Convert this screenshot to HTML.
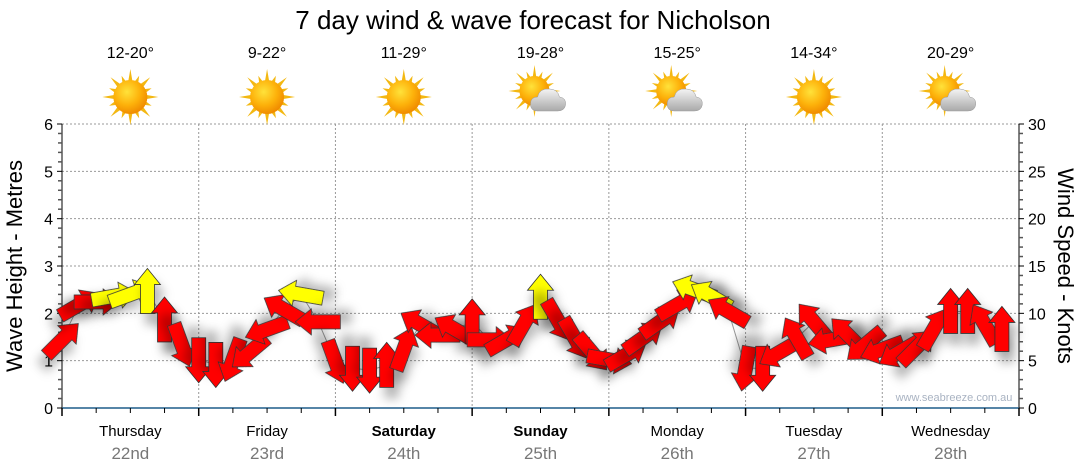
<!DOCTYPE html>
<html><head><meta charset="utf-8">
<style>
html,body{margin:0;padding:0;background:#fff;}
svg{display:block;font-family:"Liberation Sans","DejaVu Sans",sans-serif;}
</style></head>
<body>
<svg id="chart" width="1080" height="475" viewBox="0 0 1080 475">
<defs>
<filter id="sh" x="-60%" y="-60%" width="220%" height="220%"><feDropShadow dx="5" dy="11" stdDeviation="5" flood-color="#000" flood-opacity="0.28"/></filter>
<radialGradient id="sunG" cx="40%" cy="35%" r="65%"><stop offset="0" stop-color="#ffe23a"/><stop offset="0.6" stop-color="#fdb10a"/><stop offset="1" stop-color="#f08c00"/></radialGradient>
<linearGradient id="cloudG" x1="0" y1="0" x2="0" y2="1"><stop offset="0" stop-color="#f4f4f4"/><stop offset="1" stop-color="#a9a9a9"/></linearGradient>
</defs>
<text x="533" y="29" font-size="26" text-anchor="middle" fill="#000">7 day wind &amp; wave forecast for Nicholson</text>
<g id="grid"></g>
<g id="axes"></g>
<g id="header"></g>
<text x="954" y="401" font-size="11" fill="#a9b3c2" text-anchor="middle">www.seabreeze.com.au</text>
<g id="marks"></g>
<text transform="translate(22,266) rotate(-90)" font-size="22" text-anchor="middle">Wave Height - Metres</text>
<text transform="translate(1058,266) rotate(90)" font-size="22" text-anchor="middle">Wind Speed - Knots</text>
</svg>
<script>
const days = ["Thursday","Friday","Saturday","Sunday","Monday","Tuesday","Wednesday"];
const dates = ["22nd","23rd","24th","25th","26th","27th","28th"];
const temps = ["12-20°","9-22°","11-29°","19-28°","15-25°","14-34°","20-29°"];
const cloudy = [false,false,false,true,true,false,true];
const boldDays = [false,false,true,true,false,false,false];
const waveTicks = [0,1,2,3,4,5,6];
const windTicks = [0,5,10,15,20,25,30];
// 3-hourly wind speed (knots) from Thu 00:00
const windSpeed = [7.2,10.9,11.2,11.8,12,12.3,9.3,6.7,
 5.1,4.6,5.1,5.9,8.3,10.4,12,9.1,
 4.9,4.2,4,4.5,6.2,8.8,7.7,8.3,
 9.1,7.2,7.2,8.8,11.7,9.3,7.4,5.9,
 5.1,5.6,7.4,9.1,10.9,12.5,11.8,10.2,
 4.2,4.2,5.9,7.4,9.1,7.2,7.7,6.7,
 6.2,5.9,6.4,8.3,10.2,10.2,8.8,8.3];
// direction the arrow points, degrees clockwise from up
const windDir = [45,60,90,80,70,0,0,160,
 180,180,200,230,250,300,280,270,
 160,180,180,0,20,300,270,300,
 0,90,60,30,0,150,150,140,
 100,60,55,55,60,290,300,300,
 190,180,240,330,320,260,315,230,
 250,240,45,30,0,0,330,0];

const NS="http://www.w3.org/2000/svg";
const X0=62, X1=1019, Y0=408, Y1=124, HOURS=168;
const xH = h => X0 + (X1-X0)*h/HOURS;
const yM = m => Y0 - (Y0-Y1)*m/6;
const yK = k => Y0 - (Y0-Y1)*k/30;
function el(tag, attrs, parent){const e=document.createElementNS(NS,tag);for(const k in attrs)e.setAttribute(k,attrs[k]);parent.appendChild(e);return e;}
const grid=document.getElementById('grid'), axes=document.getElementById('axes'), header=document.getElementById('header'), marks=document.getElementById('marks');

waveTicks.forEach(m=>{ if(m>0){ const g=el('line',{x1:X0,x2:X1,y1:yM(m),y2:yM(m),stroke:'#999','stroke-width':1,'stroke-dasharray':'2,2'},grid);

}});
for(let d=1; d<7; d++){ const g=el('line',{x1:xH(d*24),x2:xH(d*24),y1:Y1,y2:Y0,stroke:'#999','stroke-width':1,'stroke-dasharray':'2,2'},grid);

}

el('line',{x1:X0,x2:X0,y1:Y1,y2:Y0+1,stroke:'#000','stroke-width':1},axes);
el('line',{x1:X1,x2:X1,y1:Y1,y2:Y0+1,stroke:'#000','stroke-width':1},axes);
const xb=el('line',{x1:X0,x2:X1,y1:Y0,y2:Y0,stroke:'#1f5d8a','stroke-width':1.5},axes);


for(let i=0;i<=30;i++){ const m=i*0.2; const y=yM(m); const major=(i%5===0);
 el('line',{x1:X0-(major?5:4),x2:X0,y1:y,y2:y,stroke:major?'#000':'#555','stroke-width':major?1:1.5},axes);
 el('line',{x1:X1,x2:X1+(major?5:4),y1:y,y2:y,stroke:major?'#000':'#555','stroke-width':major?1:1.5},axes);}
waveTicks.forEach(m=>{const t=el('text',{x:X0-9,y:yM(m)+6,'font-size':16,'text-anchor':'end',fill:'#000'},axes);t.textContent=m;

});
windTicks.forEach(k=>{const t=el('text',{x:X1+9,y:yK(k)+6,'font-size':16,'text-anchor':'start',fill:'#000'},axes);t.textContent=k;

});
for(let h=0;h<=HOURS;h+=6){ const major=(h%24===0);
 el('line',{x1:xH(h),x2:xH(h),y1:Y0,y2:Y0+(major?8:5),stroke:'#000','stroke-width':major?1.5:1},axes);}
days.forEach((d,i)=>{const cx=xH(i*24+12);
 const t=el('text',{x:cx,y:436,'font-size':15,'text-anchor':'middle',fill:'#000','font-weight':boldDays[i]?'bold':'normal'},axes);t.textContent=d;
 
 
 const t2=el('text',{x:cx,y:459,'font-size':17,'text-anchor':'middle',fill:'#777'},axes);t2.textContent=dates[i];
 
 
 const t3=el('text',{x:cx,y:58,'font-size':16,'text-anchor':'middle',fill:'#000'},header);t3.textContent=temps[i];
 
 
 const g=el('g',{transform:`translate(${cx},97)`},header);
 
 
 const sx=cloudy[i]?-6:0, sy=cloudy[i]?-6:0, r=cloudy[i]?15:17;
 for(let a=0;a<16;a++){const ang=a*Math.PI/8; const L=(a%2===0)?(r+11):(r+6);
  const p1=[sx+Math.cos(ang-0.15)*(r-2),sy+Math.sin(ang-0.15)*(r-2)], p2=[sx+Math.cos(ang)*L,sy+Math.sin(ang)*L], p3=[sx+Math.cos(ang+0.15)*(r-2),sy+Math.sin(ang+0.15)*(r-2)];
  el('polygon',{points:[p1,p2,p3].map(p=>p.join(',')).join(' '),fill:'#f3b812'},g);}
 el('circle',{cx:sx,cy:sy,r:r,fill:'url(#sunG)'},g);
 if(cloudy[i]){ el('path',{d:'M-3,14 Q-10,14 -10,7 Q-10,0 -3,0 Q-1,-9 9,-8 Q17,-8 19,0 Q26,1 25,8 Q24,14 17,14 Z',fill:'url(#cloudG)',stroke:'#9a9a9a','stroke-width':0.5},g);}
});

const pts=windSpeed.map((k,i)=>[xH(i*3),yK(k)]);
const pl=el('polyline',{points:pts.map(p=>p.join(',')).join(' '),fill:'none',stroke:'#999','stroke-width':1},marks);


const arrowPath='M0,-23 L13,-7 L7,-7 L7,22 L-7,22 L-7,-7 L-13,-7 Z';
windSpeed.forEach((k,i)=>{
 const a=el('path',{d:arrowPath,transform:`translate(${xH(i*3)},${yK(k)}) rotate(${windDir[i]})`,fill:k>=11.6?'#ffff00':'#ff0000',stroke:'#333','stroke-width':0.8,filter:'url(#sh)'},marks);
 
 
});
</script>
</body></html>
